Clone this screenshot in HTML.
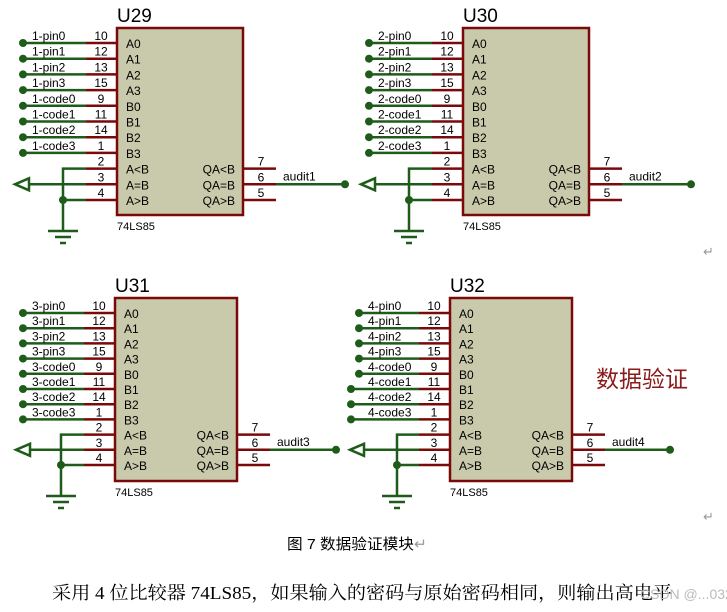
<!DOCTYPE html>
<html><head><meta charset="utf-8"><style>
html,body{margin:0;padding:0;background:#fff;width:727px;height:612px;overflow:hidden}
svg{position:absolute;left:0;top:0}
.t{font-family:"Liberation Sans",Arial,sans-serif;fill:#000}
</style></head><body>
<svg id="s" width="727" height="612" xmlns="http://www.w3.org/2000/svg"></svg>
<script>
const G="#1f5c1a",R="#7a0a0a",F="#c9c9ab";
let o='';
function chip(n,p,bx,bw,by,bh,a0,sp,dot,gx,tip,adot,dots2){
 const L=["A0","A1","A2","A3","B0","B1","B2","B3","A<B","A=B","A>B"];
 const nums=["10","12","13","15","9","11","14","1","2","3","4"];
 const nm=["pin0","pin1","pin2","pin3","code0","code1","code2","code3"];
 const rl=bx-31, bx2=bx+bw;
 o+=`<rect x="${bx}" y="${by}" width="${bw}" height="${bh}" fill="${F}" stroke="${R}" stroke-width="2.5"/>`;
 o+=`<text class="t" x="${bx}" y="${by-6}" font-size="19">${n}</text>`;
 o+=`<text class="t" x="${bx}" y="${by+bh+15}" font-size="11">74LS85</text>`;
 for(let i=0;i<11;i++){
  const y=a0+i*sp;
  o+=`<line x1="${rl}" y1="${y}" x2="${bx}" y2="${y}" stroke="${R}" stroke-width="2.5"/>`;
  o+=`<text class="t" x="${bx+9}" y="${y+5}" font-size="12">${L[i].replace('<','&lt;').replace('>','&gt;')}</text>`;
  o+=`<text class="t" x="${rl+15}" y="${y-3}" font-size="12" text-anchor="middle">${nums[i]}</text>`;
  if(i<8){
   const dx=(dots2&&i>=5)?dot-8:dot;
   o+=`<line x1="${dx}" y1="${y}" x2="${rl}" y2="${y}" stroke="${G}" stroke-width="2.5"/><circle cx="${dx}" cy="${y}" r="4" fill="${G}"/>`;
   o+=`<text class="t" x="${dot+9}" y="${y-3}" font-size="12">${p}-${nm[i]}</text>`;
  }
 }
 const yl=a0+8*sp, ye=a0+9*sp, yg=a0+10*sp;
 o+=`<polyline points="${rl},${yl} ${gx},${yl} ${gx},${yg+30}" fill="none" stroke="${G}" stroke-width="2.5"/>`;
 o+=`<line x1="${gx}" y1="${yg}" x2="${rl}" y2="${yg}" stroke="${G}" stroke-width="2.5"/><circle cx="${gx}" cy="${yg}" r="4" fill="${G}"/>`;
 o+=`<line x1="${tip+14}" y1="${ye}" x2="${rl}" y2="${ye}" stroke="${G}" stroke-width="2.5"/>`;
 o+=`<polygon points="${tip},${ye} ${tip+14},${ye-6} ${tip+14},${ye+6}" fill="none" stroke="${G}" stroke-width="2.5"/>`;
 const gy=yg+31;
 o+=`<line x1="${gx-15}" y1="${gy}" x2="${gx+15}" y2="${gy}" stroke="${G}" stroke-width="2.5"/>`;
 o+=`<line x1="${gx-8}" y1="${gy+6}" x2="${gx+8}" y2="${gy+6}" stroke="${G}" stroke-width="2.5"/>`;
 o+=`<line x1="${gx-3}" y1="${gy+12}" x2="${gx+3}" y2="${gy+12}" stroke="${G}" stroke-width="2.5"/>`;
 const RL=["QA&lt;B","QA=B","QA&gt;B"],RN=["7","6","5"];
 for(let i=0;i<3;i++){
  const y=a0+(8+i)*sp;
  o+=`<line x1="${bx2}" y1="${y}" x2="${bx2+33}" y2="${y}" stroke="${R}" stroke-width="2.5"/>`;
  o+=`<text class="t" x="${bx2-8}" y="${y+5}" font-size="12" text-anchor="end">${RL[i]}</text>`;
  o+=`<text class="t" x="${bx2+18}" y="${y-3}" font-size="12" text-anchor="middle">${RN[i]}</text>`;
 }
 o+=`<line x1="${bx2+33}" y1="${ye}" x2="${adot}" y2="${ye}" stroke="${G}" stroke-width="2.5"/><circle cx="${adot}" cy="${ye}" r="4" fill="${G}"/>`;
 o+=`<text class="t" x="${bx2+40}" y="${ye-4}" font-size="12">audit${p}</text>`;
}
chip("U29",1,117,126,28,187,43,15.7,23,63,15,345,false);
chip("U30",2,463,126,28,187,43,15.7,369,409,361,691,false);
chip("U31",3,115,122,298,183,313,15.2,23,61,16,336,false);
chip("U32",4,450,122,298,183,313,15.2,359,397,350,670,true);
o+=`<text x="596" y="387" font-size="23" fill="#8b1a1a" font-family="'Noto Sans CJK SC',sans-serif">数据验证</text>`;
o+=`<text x="287" y="549" font-size="15" textLength="140" lengthAdjust="spacingAndGlyphs" font-family="'Liberation Sans','Noto Sans CJK SC',sans-serif">图 7 数据验证模块<tspan fill="#999">↵</tspan></text>`;
o+=`<text x="52" y="599" font-size="18" textLength="620" lengthAdjust="spacingAndGlyphs" font-family="'Liberation Serif','Noto Serif CJK SC',serif">采用 4 位比较器 74LS85，如果输入的密码与原始密码相同，则输出高电平</text>`;
o+=`<text x="640" y="599" font-size="14" fill="#bbb" font-family="'Liberation Sans',sans-serif">CSDN @...0327</text>`;
o+=`<text x="703" y="256" font-size="13" fill="#999" font-family="'Liberation Sans',sans-serif">↵</text>`;
o+=`<text x="703" y="521" font-size="13" fill="#999" font-family="'Liberation Sans',sans-serif">↵</text>`;
document.getElementById('s').innerHTML=o;
</script>
</body></html>
